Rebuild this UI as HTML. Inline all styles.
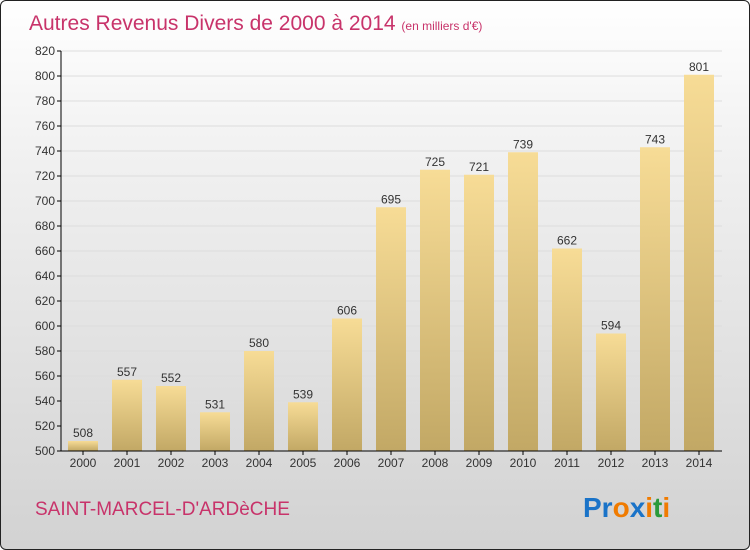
<!DOCTYPE html>
<html><head><meta charset="utf-8"><style>
body{margin:0;}
#wrap{position:relative;width:748px;height:548px;border:1px solid #222;border-radius:6px;overflow:hidden;background:linear-gradient(#ffffff,#f0f0f0 30%,#d2d2d2);font-family:"Liberation Sans",sans-serif;}
svg{position:absolute;left:0;top:0}
</style></head><body>
<div id="wrap">
<svg id="c" width="750" height="550">
<defs><linearGradient id="bg" x1="0" y1="0" x2="0" y2="1"><stop offset="0" stop-color="#f7dc96"/><stop offset="1" stop-color="#c2a865"/></linearGradient></defs>
<text x="28" y="29" font-size="21" fill="#c8336a">Autres Revenus Divers de 2000 à 2014 <tspan font-size="12">(en milliers d'€)</tspan></text>
<text x="34" y="514" font-size="19" fill="#c8336a">SAINT-MARCEL-D'ARDèCHE</text>
<text x="582" y="516" font-size="28" font-weight="bold"><tspan fill="#1a73c8">Pr</tspan><tspan fill="#f07b00">o</tspan><tspan fill="#1a73c8">x</tspan><tspan fill="#f07b00">i</tspan><tspan fill="#2a9a3a">t</tspan><tspan fill="#f07b00">i</tspan></text>
</svg>
</div>
<script>
const years=["2000","2001","2002","2003","2004","2005","2006","2007","2008","2009","2010","2011","2012","2013","2014"];
const values=[508,557,552,531,580,539,606,695,725,721,739,662,594,743,801];
const yTicks=[500,520,540,560,580,600,620,640,660,680,700,720,740,760,780,800,820];
const svg=document.getElementById('c');const NS='http://www.w3.org/2000/svg';
const yMin=500,yMax=820,yTop=50,bot=450,x0=60,x1=721;
const y=v=>bot-(v-yMin)/(yMax-yMin)*(bot-yTop);
const xc=i=>82+i*44;
function mk(t,a){const e=document.createElementNS(NS,t);for(const k in a)e.setAttribute(k,a[k]);svg.appendChild(e);return e;}
yTicks.forEach(v=>{
 const g=mk('line',{x1:x0,x2:x1,y1:y(v),y2:y(v),stroke:'#dddddd','stroke-width':1});
 
 
 const t=mk('line',{x1:x0-4,x2:x0,y1:y(v),y2:y(v),stroke:'#000'});
 
 
 const l=mk('text',{x:x0-6,y:y(v)+4,'text-anchor':'end','font-size':12,fill:'#333'});l.textContent=v;
 
 
});
values.forEach((v,i)=>{
 const b=mk('rect',{x:xc(i)-15,y:y(v),width:30,height:bot-y(v),fill:'url(#bg)'});
 
 
 const t=mk('text',{x:xc(i),y:y(v)-4,'text-anchor':'middle','font-size':12,fill:'#333'});t.textContent=v;
 
 
 const k=mk('line',{x1:xc(i),x2:xc(i),y1:bot,y2:bot+4,stroke:'#000'});
 
 
 const l=mk('text',{x:xc(i),y:bot+16,'text-anchor':'middle','font-size':12,fill:'#333'});l.textContent=years[i];
 
 
});
const ya=mk('line',{x1:x0,x2:x0,y1:yTop,y2:bot,stroke:'#000'});


const xa=mk('line',{x1:x0,x2:x1,y1:bot,y2:bot,stroke:'#000'});


</script>
</body></html>
